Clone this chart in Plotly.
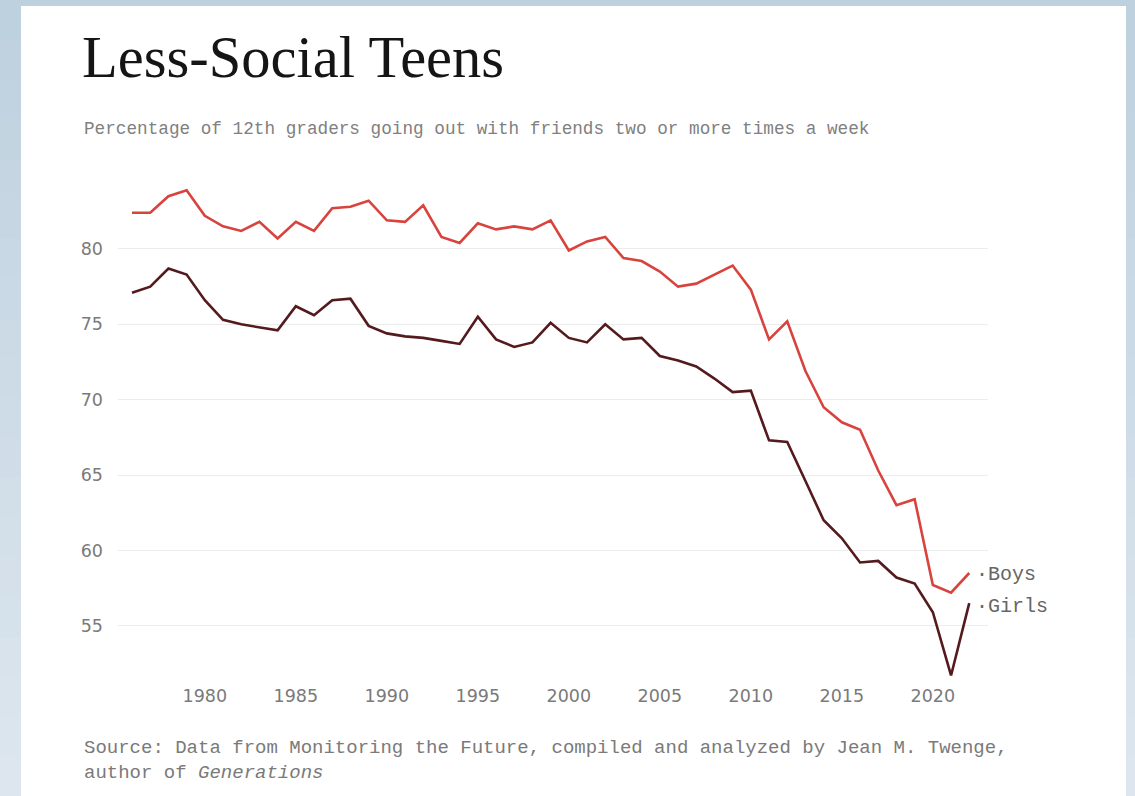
import plotly.graph_objects as go

# Share of 12th graders going out with friends two or more times a week
years = list(range(1976, 2023))
boys = [82.4, 82.4, 83.5, 83.9, 82.2, 81.5, 81.2, 81.8, 80.7, 81.8,
        81.2, 82.7, 82.8, 83.2, 81.9, 81.8, 82.9, 80.8, 80.4, 81.7,
        81.3, 81.5, 81.3, 81.9, 79.9, 80.5, 80.8, 79.4, 79.2, 78.5,
        77.5, 77.7, 78.3, 78.9, 77.3, 74.0, 75.2, 71.9, 69.5, 68.5,
        68.0, 65.3, 63.0, 63.4, 57.7, 57.2, 58.5]
girls = [77.1, 77.5, 78.7, 78.3, 76.6, 75.3, 75.0, 74.8, 74.6, 76.2,
         75.6, 76.6, 76.7, 74.9, 74.4, 74.2, 74.1, 73.9, 73.7, 75.5,
         74.0, 73.5, 73.8, 75.1, 74.1, 73.8, 75.0, 74.0, 74.1, 72.9,
         72.6, 72.2, 71.4, 70.5, 70.6, 67.3, 67.2, 64.6, 62.0, 60.8,
         59.2, 59.3, 58.2, 57.8, 55.9, 51.7, 56.5]
x_ticks = [1980, 1985, 1990, 1995, 2000, 2005, 2010, 2015, 2020]
y_ticks = [55, 60, 65, 70, 75, 80]

W, H = 1135, 796
L, R, T, B = 118, 147, 170, 116
PW, PH = W - L - R, H - T - B

BOYS_COLOR = "#d8433e"
GIRLS_COLOR = "#541a1d"
MONO = "Liberation Mono, Courier New, monospace"
SANS = "DejaVu Sans, sans-serif"


def px(x):
    return (x - L) / PW


def py(y):
    return 1 - (y - T) / PH


fig = go.Figure()
fig.add_trace(go.Scatter(x=years, y=boys, mode="lines", name="Boys",
                         line=dict(color=BOYS_COLOR, width=2.6)))
fig.add_trace(go.Scatter(x=years, y=girls, mode="lines", name="Girls",
                         line=dict(color=GIRLS_COLOR, width=2.6)))

# soft blue-grey backdrop fading downward, with a white card on top
shapes = []
top_c = (190, 209, 223)
bot_c = (221, 230, 238)
n = 20
for i in range(n):
    t = i / (n - 1)
    c = tuple(round(a + (b - a) * t) for a, b in zip(top_c, bot_c))
    y0 = H * i / n
    y1 = H * (i + 1) / n + 1
    shapes.append(dict(type="rect", xref="paper", yref="paper",
                       x0=px(0), x1=px(W), y0=py(y1), y1=py(y0),
                       fillcolor="rgb(%d,%d,%d)" % c, line=dict(width=0),
                       layer="below"))
shapes.append(dict(type="rect", xref="paper", yref="paper",
                   x0=px(21), x1=px(1126), y0=py(H + 2), y1=py(6),
                   fillcolor="white", line=dict(width=0), layer="below"))

annotations = [
    dict(text="Less-Social Teens", xref="paper", yref="paper",
         x=px(80), y=py(58), xanchor="left", yanchor="middle",
         showarrow=False,
         font=dict(family="Liberation Serif, Times New Roman, serif",
                   size=58.5, color="#151515")),
    dict(text="Percentage of 12th graders going out with friends two or more times a week",
         xref="paper", yref="paper", x=px(82), y=py(129),
         xanchor="left", yanchor="middle", showarrow=False,
         font=dict(family=MONO, size=17.7, color="#808080")),
    dict(text="Source: Data from Monitoring the Future, compiled and analyzed by Jean M. Twenge,"
              "<br>author of <i>Generations</i>",
         xref="paper", yref="paper", x=px(82), y=py(760),
         xanchor="left", yanchor="middle", align="left", showarrow=False,
         font=dict(family=MONO, size=19, color="#7a7a7a")),
    dict(text="·Boys", xref="x", yref="y", x=years[-1], y=boys[-1],
         xanchor="left", yanchor="middle", xshift=5, yshift=-1,
         showarrow=False, font=dict(family=MONO, size=20, color="#666666")),
    dict(text="·Girls", xref="x", yref="y", x=years[-1], y=girls[-1],
         xanchor="left", yanchor="middle", xshift=5, yshift=-3,
         showarrow=False, font=dict(family=MONO, size=20, color="#666666")),
]

fig.update_layout(
    width=W, height=H,
    margin=dict(l=L, r=R, t=T, b=B),
    paper_bgcolor="rgb(%d,%d,%d)" % top_c,
    plot_bgcolor="rgba(0,0,0,0)",
    showlegend=False,
    shapes=shapes,
    annotations=annotations,
    xaxis=dict(range=[1975.23, 2023.03], tickvals=x_ticks, showgrid=False,
               zeroline=False, showline=False, ticks="",
               tickfont=dict(family=SANS, size=17.5, color="#7a7a7a"),
               ticklabelstandoff=3),
    yaxis=dict(range=[51.4, 85.24], tickvals=y_ticks, showgrid=True,
               gridcolor="#ececec", gridwidth=1.3, zeroline=False,
               showline=False, ticks="",
               tickfont=dict(family=SANS, size=17.5, color="#7a7a7a"),
               ticklabelstandoff=14),
)

fig.write_html("out.html")
